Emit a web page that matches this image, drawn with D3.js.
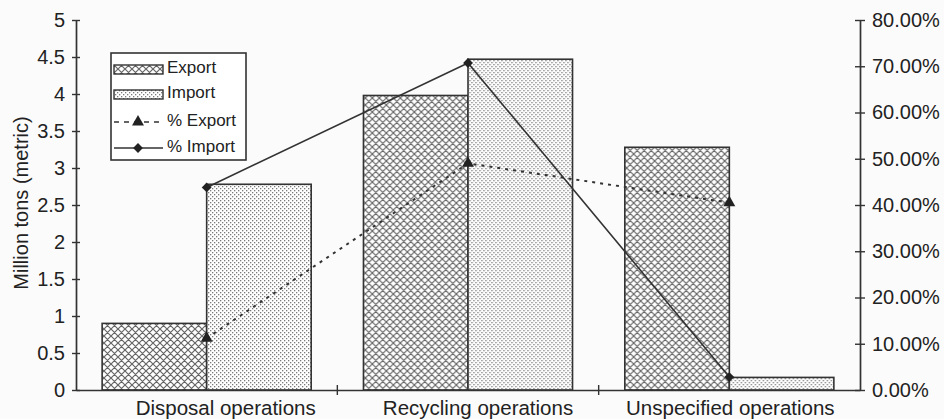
<!DOCTYPE html>
<html>
<head>
<meta charset="utf-8">
<script src="https://cdn.jsdelivr.net/npm/d3@7/dist/d3.min.js"></script>
<style>
  html, body { margin: 0; padding: 0; background: #fbfbfb; }
  svg { display: block; }
  text { font-family: "Liberation Sans", Arial, sans-serif; fill: #222; }
</style>
</head>
<body>
<svg id="chart" width="944" height="419"></svg>
<script>
// Hazardous waste shipments by operation type
const categories = ["Disposal operations", "Recycling operations", "Unspecified operations"];
const seriesNames = ["Export", "Import"];
const exportTons = [0.9, 3.98, 3.28];      // million tons (metric)
const importTons = [2.78, 4.47, 0.17];
const pctExport = [0.112, 0.490, 0.405];    // share, right axis
const pctImport = [0.438, 0.707, 0.028];
const leftTicks = [0, 0.5, 1, 1.5, 2, 2.5, 3, 3.5, 4, 4.5, 5];
const rightTicks = [0, 0.1, 0.2, 0.3, 0.4, 0.5, 0.6, 0.7, 0.8];

const ink = "#333";
const svg = d3.select("#chart");
const plotL = 76, plotR = 860, plotT = 20, plotB = 390;
const labelShift = [19, 10, 1];   // category labels sit a little right of their groups

// hatch fills for the two bar series
const defs = svg.append("defs");
const cross = defs.append("pattern")
  .attr("id", "crosshatch").attr("patternUnits", "userSpaceOnUse")
  .attr("width", 7).attr("height", 7);
cross.append("rect").attr("width", 7).attr("height", 7).attr("fill", "#fff");
cross.append("path").attr("d", "M0,0L7,7M7,0L0,7M-1,6L1,8M6,-1L8,1")
  .attr("stroke", "#666").attr("stroke-width", 1.2);

const dots = defs.append("pattern")
  .attr("id", "dots").attr("patternUnits", "userSpaceOnUse")
  .attr("width", 4).attr("height", 4);
dots.append("rect").attr("width", 4).attr("height", 4).attr("fill", "#fff");
dots.append("rect").attr("x", 0).attr("y", 0).attr("width", 1.3).attr("height", 1.3).attr("fill", "#7a7a7a");
dots.append("rect").attr("x", 2).attr("y", 2).attr("width", 1.3).attr("height", 1.3).attr("fill", "#7a7a7a");

const fills = { Export: "url(#crosshatch)", Import: "url(#dots)" };

// scales
const x0 = d3.scaleBand().domain(categories).range([plotL, plotR]).paddingInner(0).paddingOuter(0);
const x1 = d3.scaleBand().domain(seriesNames).range([0, x0.bandwidth()]).paddingInner(0).paddingOuter(0.25);
const yL = d3.scaleLinear().domain([0, 5]).range([plotB, plotT]);
const yR = d3.scaleLinear().domain([0, 0.8]).range([plotB, plotT]);

// bars
const rows = categories.map((c, i) => ({ cat: c, Export: exportTons[i], Import: importTons[i] }));
const groups = svg.append("g").selectAll("g").data(rows).join("g")
  .attr("transform", d => `translate(${x0(d.cat)},0)`);
groups.selectAll("rect").data(d => seriesNames.map(k => ({ key: k, v: d[k] }))).join("rect")
  .attr("x", d => x1(d.key))
  .attr("y", d => yL(d.v))
  .attr("width", x1.bandwidth())
  .attr("height", d => yL(0) - yL(d.v))
  .attr("fill", d => fills[d.key])
  .attr("stroke", ink).attr("stroke-width", 1.6);

// axes
function styleAxis(g) {
  g.select(".domain").attr("stroke", ink).attr("stroke-width", 1.7);
  g.selectAll(".tick line").attr("stroke", ink).attr("stroke-width", 1.4);
  g.selectAll(".tick text").attr("font-size", 20).style("font-family", "Liberation Sans, Arial, sans-serif").attr("fill", "#222");
}

const axL = svg.append("g").attr("transform", `translate(${plotL},0)`)
  .call(d3.axisLeft(yL).tickValues(leftTicks).tickFormat(d3.format("")).tickSizeInner(4).tickSizeOuter(0).tickPadding(7));
styleAxis(axL);
axL.selectAll(".tick line").attr("x1", 4).attr("x2", -4);

const axR = svg.append("g").attr("transform", `translate(${plotR},0)`)
  .call(d3.axisRight(yR).tickValues(rightTicks).tickFormat(d3.format(".2%")).tickSizeInner(5).tickSizeOuter(0).tickPadding(7));
styleAxis(axR);
axR.selectAll(".tick line").attr("x1", -5).attr("x2", 5);

// category axis with boundary ticks
const axB = svg.append("g").attr("transform", `translate(0,${plotB})`)
  .call(d3.axisBottom(x0).tickSize(0).tickPadding(10));
axB.select(".domain").attr("stroke", ink).attr("stroke-width", 1.7);
axB.selectAll(".tick text").attr("font-size", 20.5)
  .style("font-family", "Liberation Sans, Arial, sans-serif").attr("fill", "#222")
  .attr("dx", (d, i) => labelShift[i]);
axB.selectAll(".boundary").data(categories.slice(1)).join("line")
  .attr("class", "boundary")
  .attr("x1", d => x0(d)).attr("x2", d => x0(d))
  .attr("y1", -5).attr("y2", 5)
  .attr("stroke", ink).attr("stroke-width", 1.4);

// left axis title
svg.append("text")
  .attr("transform", `translate(23,${(plotT + plotB) / 2 - 2}) rotate(-90)`)
  .attr("text-anchor", "middle").attr("dominant-baseline", "middle")
  .attr("font-size", 20).text("Million tons (metric)");

// percentage lines
const cx = c => x0(c) + x0.bandwidth() / 2;
const line = d3.line().x(d => cx(d.cat)).y(d => yR(d.v));
const expPts = categories.map((c, i) => ({ cat: c, v: pctExport[i] }));
const impPts = categories.map((c, i) => ({ cat: c, v: pctImport[i] }));

svg.append("path").datum(expPts).attr("d", line)
  .attr("fill", "none").attr("stroke", ink).attr("stroke-width", 2).attr("stroke-dasharray", "3,5");
svg.append("path").datum(impPts).attr("d", line)
  .attr("fill", "none").attr("stroke", ink).attr("stroke-width", 1.6);

const tri = d3.symbol().type(d3.symbolTriangle).size(62);
const dia = d3.symbol().type(d3.symbolSquare).size(48);   // rotated 45° below
svg.append("g").selectAll("path").data(expPts).join("path")
  .attr("d", tri).attr("transform", d => `translate(${cx(d.cat)},${yR(d.v)})`).attr("fill", "#222");
svg.append("g").selectAll("path").data(impPts).join("path")
  .attr("d", dia).attr("transform", d => `translate(${cx(d.cat)},${yR(d.v)}) rotate(45)`).attr("fill", "#222");

// legend
const legend = svg.append("g").attr("transform", "translate(111,53)");
legend.append("rect").attr("width", 135).attr("height", 107)
  .attr("fill", "#fff").attr("stroke", ink).attr("stroke-width", 1.6);
const items = [
  { label: "Export", kind: "bar", key: "Export", y: 16 },
  { label: "Import", kind: "bar", key: "Import", y: 41 },
  { label: "% Export", kind: "dash", y: 69 },
  { label: "% Import", kind: "solid", y: 95 }
];
items.forEach(it => {
  const g = legend.append("g").attr("transform", `translate(0,${it.y})`);
  if (it.kind === "bar") {
    g.append("rect").attr("x", 3).attr("y", -4).attr("width", 49).attr("height", 9)
      .attr("fill", fills[it.key]).attr("stroke", ink).attr("stroke-width", 1.4);
  } else {
    g.append("line").attr("x1", 3).attr("x2", 52).attr("y1", 0).attr("y2", 0)
      .attr("stroke", ink).attr("stroke-width", 1.5)
      .attr("stroke-dasharray", it.kind === "dash" ? "5,5" : null);
    g.append("path").attr("d", it.kind === "dash" ? tri : dia)
      .attr("transform", it.kind === "dash" ? "translate(27,0)" : "translate(27,0) rotate(45)")
      .attr("fill", "#222");
  }
  g.append("text").attr("x", 56).attr("y", 0).attr("dominant-baseline", "middle")
    .attr("font-size", 17).text(it.label);
});
</script>
</body>
</html>
